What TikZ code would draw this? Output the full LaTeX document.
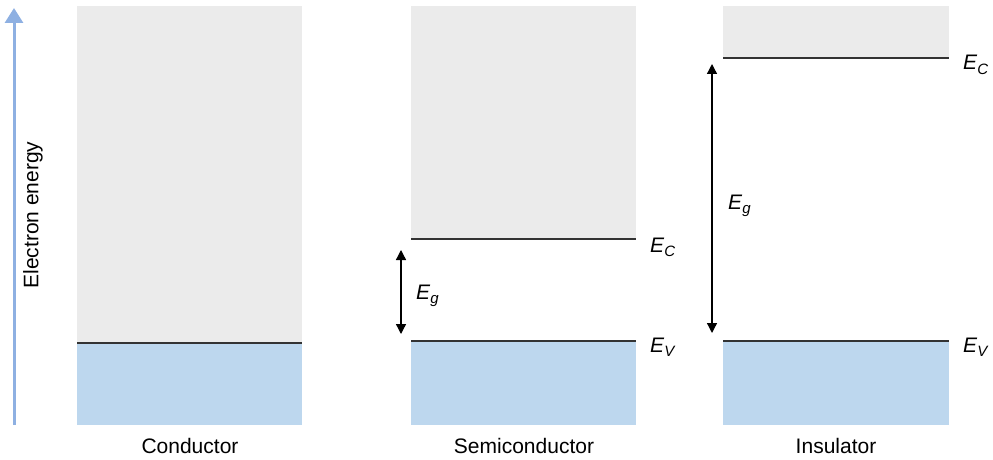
\documentclass[tikz,border=0pt]{standalone}
\usepackage{fontspec}
\setmainfont{Liberation Sans}
\usetikzlibrary{arrows.meta}

\definecolor{bandgray}{HTML}{EBEBEB}
\definecolor{bandblue}{HTML}{BDD7EE}
\definecolor{energyblue}{HTML}{8EB0E2}
\newcommand{\bandlevel}[1]{\textit{E}\raisebox{-0.45ex}{\fontsize{15}{15}\selectfont\textit{#1}}}

\begin{document}
\begin{tikzpicture}[
    x=1pt, y=-1pt,
    every node/.style={font=\fontsize{21}{25}\selectfont},
    % Conduction band (gray) and valence band (blue)
    cband/.style={fill=bandgray, draw=none},
    vband/.style={fill=bandblue, draw=none},
    % Band edge line
    bandedge/.style={line width=1.3pt, draw=black!80},
    % Gap arrow
    gaparrow/.style={{Triangle[length=10pt,width=10pt]}-{Triangle[length=10pt,width=10pt]}, line width=1.3pt},
    % Energy axis
    energyarrow/.style={-{Triangle[length=15pt,width=18pt]}, line width=3pt, draw=energyblue},
    % Labels
    edgelabel/.style={anchor=base west, inner sep=0pt},
    matlabel/.style={anchor=base, inner sep=0pt},
]
\useasboundingbox (0,0) rectangle (993,460);

% ============================================================
% Energy axis
% ============================================================
\coordinate (axbot) at (14,425);
\coordinate (axtop) at (14,8);
\draw[energyarrow] (axbot) -- (axtop);
\node[rotate=90] (axlabel) at (33,215) {Electron energy};

% ============================================================
% Conductor
% ============================================================
\fill[cband] (77,6) rectangle (302,343);
\fill[vband] (77,343) rectangle (302,425);
\draw[bandedge] (77,343) -- (302,343);
\node[matlabel] (cond) at (190,453) {Conductor};

% ============================================================
% Semiconductor
% ============================================================
\fill[cband] (411,6) rectangle (636,239);
\fill[vband] (411,341) rectangle (636,425);
\draw[bandedge] (411,239) -- (636,239);
\draw[bandedge] (411,341) -- (636,341);
\node[edgelabel] (semiEC) at (650,252) {\bandlevel{C}};
\node[edgelabel] (semiEV) at (650,352) {\bandlevel{V}};
\coordinate (semitop) at (401,250);
\coordinate (semibot) at (401,334);
\draw[gaparrow] (semitop) -- (semibot);
\node[edgelabel] (semiEg) at (416,299) {\bandlevel{g}};
\node[matlabel] (semi) at (524,453) {Semiconductor};

% ============================================================
% Insulator
% ============================================================
\fill[cband] (723,6) rectangle (949,58);
\fill[vband] (723,341) rectangle (949,425);
\draw[bandedge] (723,58) -- (949,58);
\draw[bandedge] (723,341) -- (949,341);
\node[edgelabel] (insEC) at (963,70) {\bandlevel{C}};
\node[edgelabel] (insEV) at (963,352) {\bandlevel{V}};
\coordinate (instop) at (712,64);
\coordinate (insbot) at (712,333);
\draw[gaparrow] (instop) -- (insbot);
\node[edgelabel] (insEg) at (728,209) {\bandlevel{g}};
\node[matlabel] (ins) at (836,453) {Insulator};

\end{tikzpicture}
\end{document}
